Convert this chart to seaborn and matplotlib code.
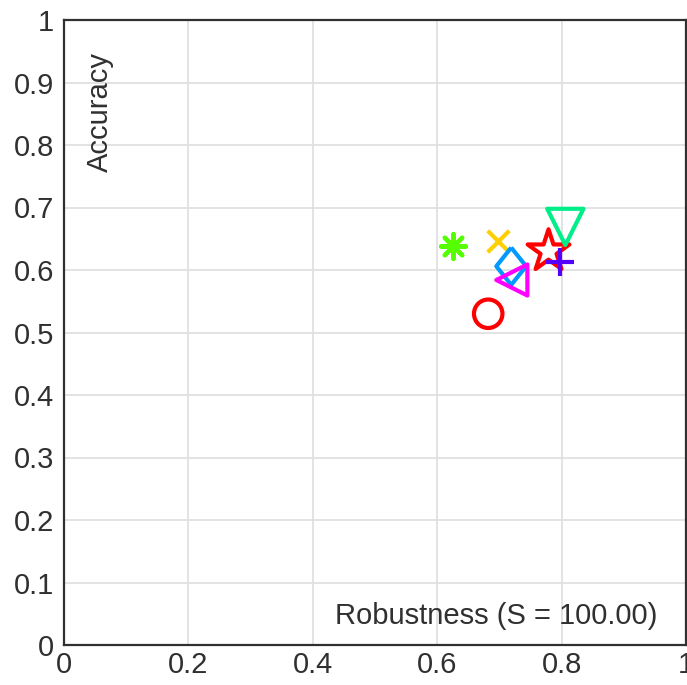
import matplotlib
matplotlib.use("Agg")
import matplotlib.pyplot as plt
import seaborn as sns

# Data
robustness = [0.626, 0.698, 0.719, 0.720, 0.682, 0.779, 0.798, 0.806]
accuracy = [0.638, 0.646, 0.606, 0.584, 0.530, 0.630, 0.613, 0.669]
colors = ["#55ff00", "#ffd000", "#0099ff", "#ff00ff", "#ff0000", "#ff0000", "#5500ff", "#00ee88"]
diamond = [(0, 1), (0.8, 0), (0, -1), (-0.8, 0), (0, 1)]
markers = [(8, 2, 0), "x", diamond, "<", "o", "*", "+", "v"]
sizes = [320, 240, 720, 500, 420, 1000, 380, 680]
xticks = [0, 0.2, 0.4, 0.6, 0.8, 1]
yticks = [0, 0.1, 0.2, 0.3, 0.4, 0.5, 0.6, 0.7, 0.8, 0.9, 1]

sns.set_theme(style="white")
plt.rcParams["font.family"] = ["Liberation Sans", "DejaVu Sans"]

fig = plt.figure(figsize=(6.87, 6.85), dpi=100)
ax = fig.add_axes([64/687, 1-645/685, (686-64)/687, (645-20)/685])

for x, y, c, m, s in zip(robustness, accuracy, colors, markers, sizes):
    if isinstance(m, (str, tuple)) and m in ("x", "+", (8, 2, 0)):
        sns.scatterplot(x=[x], y=[y], marker=m, s=s, color=c, linewidth=3, ax=ax, zorder=3)
    else:
        sns.scatterplot(x=[x], y=[y], marker=m, s=s, facecolor="none", edgecolor=c, linewidth=3, ax=ax, zorder=3)

ax.set_xlim(0, 1)
ax.set_ylim(0, 1)
ax.set_xticks(xticks)
ax.set_yticks(yticks)
ax.set_xticklabels([f"{t:g}" for t in xticks])
ax.set_yticklabels([f"{t:g}" for t in yticks])
ax.grid(True, color="#e0e0e0", linewidth=1.3)
ax.set_axisbelow(True)
for sp in ax.spines.values():
    sp.set_color("#303030")
    sp.set_linewidth(1.6)
ax.tick_params(direction="in", length=5, width=1.0, colors="#303030", labelsize=21)
ax.tick_params(axis="y", pad=7)
ax.tick_params(axis="x", pad=4)
ax.set_xlabel("")
ax.set_ylabel("")
ax.text(0.058, 0.853, "Accuracy", rotation=90, transform=ax.transAxes, ha="center", va="center",
        fontsize=21, color="#303030")
ax.text(0.6945, 0.046, "Robustness (S = 100.00)", transform=ax.transAxes, ha="center", va="center",
        fontsize=21, color="#303030")

fig.savefig("out.png", dpi=100)
